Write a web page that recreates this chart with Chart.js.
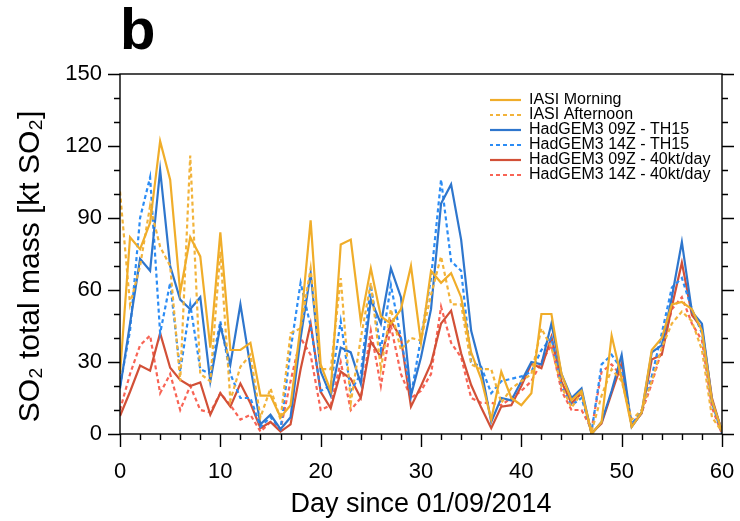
<!DOCTYPE html>
<html>
<head>
<meta charset="utf-8">
<script src="https://cdn.jsdelivr.net/npm/chart.js@4.4.0/dist/chart.umd.min.js"></script>
<style>
html,body{margin:0;padding:0;background:#ffffff;overflow:hidden;}
#wrap{width:740px;height:521px;position:relative;overflow:hidden;}
canvas{display:block;}
</style>
</head>
<body>
<div id="wrap"><canvas id="c"></canvas></div>
<script>
// ---- data ----
const days = [0,1,2,3,4,5,6,7,8,9,10,11,12,13,14,15,16,17,18,19,20,21,22,23,24,25,26,27,28,29,30,31,32,33,34,35,36,37,38,39,40,41,42,43,44,45,46,47,48,49,50,51,52,53,54,55,56,57,58,59,60];

const iasiMorning = [25,82,77,88,122,106,59,82,74,36,84,35,35,38,16,16,7,12,45,89,29,18,79,81,47,69,49,46,52,70,38,68,63,67,57,34,23,6,26,15,12,17,50,50,25,14,18,0,5,41,23,3,9,35,40,54,55,52,43,14,1];
const iasiAfternoon = [101,54,70,95,78,70,22,116,25,22,76,14,28,33,7,19,6,42,44,69,27,27,65,13,40,63,27,52,35,40,39,58,74,54,54,29,27,27,13,19,22,25,44,36,20,11,17,1,16,27,22,6,10,22,36,46,51,47,35,7,1];
const had09TH15 = [19,46,73,68,110,70,56,52,57,22,45,29,54,28,4,8,2,7,40,67,26,16,36,34,21,56,46,69,57,16,32,52,96,104,81,43,27,5,15,14,22,30,29,46,25,15,19,0,5,18,33,3,9,34,37,57,80,51,46,14,1];
const had14TH15 = [20,43,90,107,42,63,26,54,27,25,47,25,15,15,3,7,2,35,63,45,18,20,47,18,25,62,35,62,40,16,40,65,106,72,68,30,28,17,22,23,24,26,35,40,20,12,15,1,29,33,27,4,10,24,42,61,65,52,42,13,0];
const had09kt = [7.5,17.6,28.5,26.4,42,27.6,22.5,20,21.5,8,17,11.4,21,12.8,2.4,5,1,4,27,46,17.6,10.7,26,23,15,38.5,32,47,40,11.4,20,29.4,46,51.4,33.6,20.4,11,2.4,11.4,12,20,29.4,27.4,40.5,21.8,12.8,17,0.3,4.4,17,29.4,3.3,8.6,31,33,53,71.4,49.6,44,15,1];
const had14kt = [10,25,37,41,17,25,10,20,10,9,17,12,6,8,1,5,2,22,40,33,10,12,30,10,15,43,20,45,25,15,18,25,53,38,32,15,13,13,12,15,18,22,30,37,18,10,10,2,26,29,24,4,9,21,35,52,57,46,39,11,0];

const seriesLabels = ['IASI Morning','IASI Afternoon','HadGEM3 09Z - TH15','HadGEM3 14Z - TH15','HadGEM3 09Z - 40kt/day','HadGEM3 14Z - 40kt/day'];
const xTickLabels = [0,10,20,30,40,50,60];
const yTickLabels = [0,30,60,90,120,150];

// ---- styles ----
const FONT = "'Liberation Sans', Arial, Helvetica, sans-serif";
Chart.defaults.font.family = FONT;
Chart.defaults.color = '#000';

function pts(vals){ return days.map((d,i)=>({x:d, y:vals[i]})); }
const styles = [
  {c:'#F0AD2A', dash:[]},
  {c:'#F2B33A', dash:[4,3]},
  {c:'#2E76CD', dash:[]},
  {c:'#2B8CF5', dash:[4,3]},
  {c:'#D25037', dash:[]},
  {c:'#F86455', dash:[4,3]}
];
const LW = 2.2;
const allVals = [iasiMorning, iasiAfternoon, had09TH15, had14TH15, had09kt, had14kt];

const datasets = allVals.map((v,i)=>({
  label: seriesLabels[i],
  data: pts(v),
  borderColor: styles[i].c,
  backgroundColor: styles[i].c,
  borderDash: styles[i].dash,
  borderWidth: LW,
  pointRadius: 0,
  tension: 0,
  fill: false
}));

// frame + major/minor tick marks drawn from the scales; legend placed top-right inside plot
const frameTicks = {
  id: 'frameTicks',
  afterLayout(chart){
    const lg = chart.legend, a = chart.chartArea;
    if (!lg) return;
    const L = a.right - 232, T = a.top + 19;
    lg.left = L; lg.top = T; lg.right = chart.width; lg.bottom = T + 200;
  },
  afterDraw(chart){
    const {ctx, chartArea:a, scales:{x, y}} = chart;
    ctx.save();
    ctx.strokeStyle = '#000';
    ctx.lineWidth = 1.4;
    ctx.lineCap = 'butt';
    ctx.setLineDash([]);
    ctx.strokeRect(a.left, a.top, a.right - a.left, a.bottom - a.top);
    ctx.beginPath();
    for (let v = x.min; v <= x.max; v += 2) {
      const px = Math.round(x.getPixelForValue(v)) + 0.5;
      const len = (v % 10 === 0) ? 13 : 6;
      ctx.moveTo(px, a.bottom); ctx.lineTo(px, a.bottom + len);
    }
    for (let v = y.min; v <= y.max; v += 10) {
      const py = Math.round(y.getPixelForValue(v)) + 0.5;
      const len = (v % 30 === 0) ? 12 : 6;
      ctx.moveTo(a.left - len, py); ctx.lineTo(a.left, py);
      ctx.moveTo(a.right, py); ctx.lineTo(a.right + len, py);
    }
    ctx.stroke();
    ctx.restore();
  }
};

new Chart(document.getElementById('c'), {
  type: 'line',
  data: { datasets },
  options: {
    responsive: true,
    maintainAspectRatio: false,
    animation: false,
    layout: { padding: {left: 0, right: 18, top: 0, bottom: 0} },
    plugins: {
      title: {
        display: true, text: 'b', align: 'start', fullSize: false,
        color: '#000',
        font: {size: 58, weight: 'bold', lineHeight: 1},
        padding: {top: 4, bottom: 12}
      },
      legend: {
        position: 'chartArea', align: 'start',
        labels: {
          usePointStyle: true, pointStyle: 'line', pointStyleWidth: 32,
          font: {size: 16}, color: '#000', padding: -1,
          generateLabels: chart => Chart.defaults.plugins.legend.labels.generateLabels(chart).map(it => {
            const ds = chart.data.datasets[it.datasetIndex];
            return Object.assign(it, {lineDash: ds.borderDash, lineWidth: ds.borderWidth, strokeStyle: ds.borderColor, pointStyle: 'line'});
          })
        }
      },
      tooltip: {enabled: false}
    },
    scales: {
      x: {
        type: 'linear', min: 0, max: 60,
        afterBuildTicks: s => { s.ticks = xTickLabels.map(v => ({value: v})); },
        afterFit: s => { s.height = 87; },
        grid: {display: false, drawTicks: true, tickLength: 25},
        border: {display: false},
        ticks: {font: {size: 22}, padding: 0, color: '#000', maxRotation: 0},
        title: {display: true, text: 'Day since 01/09/2014', font: {size: 27}, color: '#000', padding: {top: 0, bottom: 0}}
      },
      y: {
        type: 'linear', min: 0, max: 150,
        afterBuildTicks: s => { s.ticks = yTickLabels.map(v => ({value: v})); },
        afterFit: s => { s.width = 120; },
        grid: {display: false, drawTicks: false},
        border: {display: false},
        ticks: {font: {size: 22}, padding: 18, color: '#000'},
        title: {display: true, text: 'SO\u2082 total mass [kt SO\u2082]   ', font: {size: 30}, color: '#000', padding: {top: 13, bottom: 0}}
      }
    }
  },
  plugins: [frameTicks]
});
</script>
</body>
</html>
